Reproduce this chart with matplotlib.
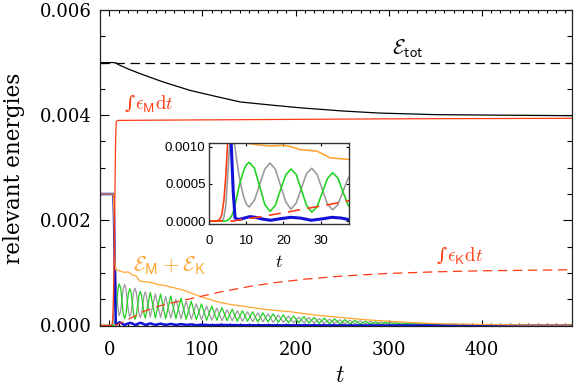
import matplotlib
matplotlib.use("Agg")
import matplotlib.pyplot as plt
from matplotlib.ticker import MultipleLocator, FormatStrFormatter

plt.rcParams['mathtext.fontset'] = 'cm'

# ---------------- data ----------------
t_tot = [-10, 497]
e_tot = [0.005, 0.005]

t_black = [-10, 5, 7.5, 10, 20, 33, 58, 87, 116, 141, 175, 205, 250, 290, 350, 420, 497]
e_black = [0.005, 0.005, 0.00499, 0.00496, 0.00488, 0.00479, 0.00463, 0.00447, 0.00435,
           0.00425, 0.00419, 0.00414, 0.00408, 0.00404, 0.00401, 0.00400, 0.00399]

t_epsM = [-10, 2, 2.5, 3, 3.5, 4, 4.5, 5, 5.5, 6, 6.5, 7, 7.5, 9, 50, 100, 200, 300, 497]
e_epsM = [0, 0, 0.00001, 0.00003, 0.0001, 0.00028, 0.0006, 0.00105, 0.0017, 0.0025,
          0.0032, 0.0037, 0.00388, 0.0039, 0.003905, 0.00391, 0.00392, 0.00393, 0.00394]

t_epsK = [-10, 6.5, 7.5, 10, 13, 16.4, 21, 27, 32, 37, 44, 50, 60, 70, 90, 120, 150,
          180, 210, 250, 300, 350, 400, 450, 497]
e_epsK = [0, 0, 0.00001, 0.00003, 0.00005, 0.00008, 0.00012, 0.000175, 0.00022, 0.00027,
          0.00031, 0.00035, 0.0004, 0.00044, 0.00052, 0.00064, 0.00074, 0.00082, 0.00088,
          0.00094, 0.00099, 0.00102, 0.00104, 0.00105, 0.00106]

t_orange = [-10, 4, 4.5, 5, 5.5, 6, 6.5, 7, 9, 11, 14, 16.4, 20, 22, 24.5, 27, 29, 31,
            32.5, 35, 37.4, 40, 44, 50, 62, 80, 98, 116, 130, 150, 170, 195, 220, 250,
            275, 300, 330, 360, 400, 450, 497]
e_orange = [0.0025, 0.0025, 0.0024, 0.0021, 0.0017, 0.0013, 0.0011, 0.00106, 0.00105,
            0.00104, 0.00102, 0.00101, 0.00102, 0.001, 0.00096, 0.00095, 0.00094, 0.00089,
            0.00085, 0.00084, 0.00083, 0.00083, 0.00082, 0.00079, 0.00075, 0.00067, 0.00055,
            0.00045, 0.0004, 0.00035, 0.0003, 0.00026, 0.0002, 0.00015, 0.00011, 0.00008,
            0.00005, 0.00003, 0.00002, 0.00001, 0.00001]

t_blue = [-10, 4, 4.5, 5, 5.5, 6, 6.5, 7, 8, 9.5, 11, 12.5, 14, 16.5, 19, 22, 24.5, 27.5,
          30.5, 33, 35.5, 38.5, 44, 49.5, 55, 60.5, 66, 71.5, 77, 82.5, 88, 93.5, 99, 110,
          121, 140, 200, 300, 497]
e_blue = [0.0025, 0.0025, 0.0024, 0.0021, 0.0016, 0.0010, 0.0004, 0.00004, 0.00002,
          0.00004, 0.00006, 0.00005, 0.00003, 0.00001, 0.00003, 0.00005, 0.00004, 0.00001,
          0.00003, 0.00005, 0.00004, 0.00001, 0.00004, 0.00001, 0.000035, 0.00001, 0.00003,
          0.00001, 0.000025, 0.00001, 0.00002, 0.000005, 0.000015, 0.000005, 0.00001,
          0.000005, 0.000003, 0, 0]

t_green = [-10, 4.5, 5, 5.5, 6, 6.5, 7, 7.5, 8, 8.7, 9.4, 10.1, 10.8, 12.2, 13.6, 15.0,
           16.4, 17.8, 19.2, 20.6, 22.0, 23.4, 24.8, 26.2, 27.6, 29.0, 30.4, 31.8, 33.2,
           34.6, 36.0, 37.4, 38.8, 44, 49.5, 55, 60.5, 66, 71.5, 77, 82.5, 88, 93.5, 99,
           104.5, 110, 115.5, 121, 126.5, 132, 137.5, 143, 148.5, 154, 159.5, 165, 170.5,
           176, 181.5, 187, 192.5, 198, 203.5, 209, 214.5, 220, 225.5, 231, 236.5, 242,
           247.5, 253, 258.5, 264, 269.5, 275, 280.5, 286, 291.5, 297, 302.5, 308, 313.5,
           319, 324.5, 330, 335.5, 350, 400, 450, 497]
e_green = [0, 0, 0.00001, 0.00003, 0.00006, 0.00012, 0.00022, 0.00033, 0.00045, 0.00058,
           0.00069, 0.00076, 0.00079, 0.00071, 0.00047, 0.00022, 0.00013, 0.00021, 0.00042,
           0.00062, 0.00070, 0.00063, 0.00042, 0.00021, 0.00012, 0.00019, 0.00038, 0.00057,
           0.00065, 0.00058, 0.00039, 0.00021, 0.00014,
           0.00063, 0.00014, 0.00060, 0.00013, 0.00056, 0.00013, 0.00052, 0.00012, 0.00046,
           0.00011, 0.00041, 0.00010, 0.00037, 0.00010, 0.00034, 0.00009, 0.00031, 0.00008,
           0.00028, 0.00008, 0.00026, 0.00007, 0.00024, 0.00007, 0.00022, 0.00006, 0.00020,
           0.00005, 0.00018, 0.00005, 0.00017, 0.000045, 0.000155, 0.00004, 0.00014,
           0.000035, 0.000125, 0.00003, 0.00011, 0.00003, 0.000095, 0.000025, 0.00008,
           0.000025, 0.00007, 0.00002, 0.00006, 0.00002, 0.000055, 0.00002, 0.000045,
           0.000018, 0.00004, 0.00002, 0.00002, 0.000015, 0.00001, 0.00001]

t_gray = [-10, 3.5, 4, 4.5, 5, 5.5, 6, 6.5, 7, 7.5, 8, 8.7, 9.4, 10.1, 10.8, 12.2, 13.6,
          15.0, 16.4, 17.8, 19.2, 20.6, 22.0, 23.4, 24.8, 26.2, 27.6, 29.0, 30.4, 31.8,
          33.2, 34.6, 36.0, 37.4, 38.8, 44, 49.5, 55, 60.5, 66, 71.5, 77, 82.5, 88, 93.5,
          99, 104.5, 110, 115.5, 121, 126.5, 132, 137.5, 143, 148.5, 154, 159.5, 165,
          170.5, 176, 181.5, 187, 192.5, 198, 203.5, 209, 214.5, 220, 225.5, 231, 236.5,
          242, 247.5, 253, 258.5, 264, 269.5, 275, 280.5, 286, 291.5, 297, 302.5, 308,
          313.5, 319, 324.5, 330, 335.5, 350, 400, 450, 497]
e_gray = [0, 0, 0.00005, 0.0002, 0.0006, 0.0010, 0.0012, 0.00115, 0.00098, 0.0008, 0.00063,
          0.00045, 0.00031, 0.00022, 0.00019, 0.00028, 0.00049, 0.00070, 0.00078, 0.00070,
          0.00048, 0.00026, 0.00016, 0.00024, 0.00044, 0.00064, 0.00071, 0.00063, 0.00043,
          0.00023, 0.00015, 0.00022, 0.00040, 0.00058, 0.00064,
          0.00016, 0.00060, 0.00015, 0.00055, 0.00014, 0.00050, 0.00013, 0.00046, 0.00012,
          0.00041, 0.00011, 0.00037, 0.00010, 0.00033, 0.00009, 0.00030, 0.00009, 0.00028,
          0.00008, 0.00026, 0.00007, 0.00024, 0.00007, 0.00022, 0.00006, 0.00020, 0.00006,
          0.00018, 0.00005, 0.00016, 0.00005, 0.00015, 0.000045, 0.00013, 0.00004, 0.00012,
          0.00004, 0.00011, 0.000035, 0.00010, 0.00003, 0.00009, 0.00003, 0.00008,
          0.000025, 0.00007, 0.000025, 0.00006, 0.00002, 0.00005, 0.00002, 0.000045,
          0.00002, 0.00004, 0.00002, 0.000015, 0.00001, 0.00001]

main_yticks = [0.000, 0.002, 0.004, 0.006]
main_xticks = [0, 100, 200, 300, 400]
inset_yticks = [0.0000, 0.0005, 0.0010]
inset_xticks = [0, 10, 20, 30]

# ---------------- colours ----------------
C_RED = '#ff3a12'
C_ORANGE = '#ffa530'
C_GREEN = '#1ed21e'
C_BLUE = '#1212d8'
C_GRAY = '#9a9a9a'

fig = plt.figure(figsize=(5.81, 3.88), dpi=100)
ax = fig.add_axes([100/581, 62/388, 472/581, 316/388])


def draw(a, lw_scale=1.0, blue_lw=1.8):
    a.plot(t_gray, e_gray, color=C_GRAY, lw=0.9*lw_scale)
    a.plot(t_green, e_green, color=C_GREEN, lw=0.9*lw_scale)
    a.plot(t_blue, e_blue, color=C_BLUE, lw=blue_lw)
    a.plot(t_orange, e_orange, color=C_ORANGE, lw=0.9*lw_scale)
    a.plot(t_epsK, e_epsK, color=C_RED, lw=0.9*lw_scale, linestyle=(0, (7.5, 4.5)))
    a.plot(t_epsM, e_epsM, color=C_RED, lw=0.9*lw_scale)


draw(ax)
ax.plot(t_tot, e_tot, color='black', lw=0.9, linestyle=(0, (7.5, 4.5)))
ax.plot(t_black, e_black, color='black', lw=0.9)

ax.set_xlim(-10, 497)
ax.set_ylim(-0.00001, 0.006)
ax.set_xticks(main_xticks)
ax.set_yticks(main_yticks)
ax.yaxis.set_major_formatter(FormatStrFormatter('%.3f'))
ax.xaxis.set_minor_locator(MultipleLocator(10))
ax.yaxis.set_minor_locator(MultipleLocator(0.0005))
ax.tick_params(axis='both', which='both', direction='in', top=True, right=True,
               color='black', width=0.8)
ax.tick_params(axis='y', which='major', length=6.5, pad=6)
ax.tick_params(axis='y', which='minor', length=3.3)
ax.tick_params(axis='x', which='major', length=4.3, pad=11)
ax.tick_params(axis='x', which='minor', length=2.2)
for lab in ax.get_xticklabels() + ax.get_yticklabels():
    lab.set_fontfamily('DejaVu Serif')
    lab.set_fontsize(13)
for s in ax.spines.values():
    s.set_linewidth(0.9)
    s.set_color('#222222')

ax.set_ylabel('relevant energies', fontfamily='DejaVu Serif', fontsize=15.5)
ax.yaxis.set_label_coords(-0.158, 0.5)
ax.set_xlabel(r'$t$', fontsize=17)
ax.xaxis.set_label_coords(0.508, -0.118)


def integral_label(a, x, y, sub, color):
    # small slanted integral sign followed by epsilon_sub dt
    a.annotate('\u222b', xy=(x, y), xytext=(0, 0.5), textcoords='offset points',
               fontfamily='DejaVu Serif', fontstyle='italic', fontsize=14,
               color=color, ha='right', va='center')
    a.annotate(r'$\epsilon_{\mathsf{%s}}\mathrm{d}t$' % sub, xy=(x, y), xytext=(0.5, 0),
               textcoords='offset points', fontsize=13.5, color=color,
               ha='left', va='center')


ax.text(320, 0.00527, r'$\mathcal{E}_{\mathsf{tot}}$', fontsize=15, color='black',
        ha='center', va='center')
integral_label(ax, 27, 0.0042, 'M', C_RED)
ax.text(65, 0.00113, r'$\mathcal{E}_{\mathsf{M}}+\mathcal{E}_{\mathsf{K}}$', fontsize=15,
        color=C_ORANGE, ha='center', va='center')
integral_label(ax, 362, 0.00131, 'K', C_RED)

# ---------------- inset ----------------
ins = fig.add_axes([209/581, (388-224)/388, 140/581, 81/388])
draw(ins, lw_scale=1.3, blue_lw=2.2)
ins.set_xlim(0, 37.6)
ins.set_ylim(-0.00004, 0.00105)
ins.set_xticks(inset_xticks)
ins.set_yticks(inset_yticks)
ins.yaxis.set_major_formatter(FormatStrFormatter('%.4f'))
ins.tick_params(axis='both', which='both', direction='in', top=True, right=True,
                length=2.5, width=0.8, labelsize=9.5)
ins.tick_params(axis='y', pad=2.5)
ins.tick_params(axis='x', pad=8)
for lab in ins.get_xticklabels() + ins.get_yticklabels():
    lab.set_fontfamily('Liberation Sans')
for s in ins.spines.values():
    s.set_linewidth(1.0)
    s.set_color('#333333')
ins.set_xlabel(r'$t$', fontsize=13)
ins.xaxis.set_label_coords(0.5, -0.36)

fig.savefig('out.png', dpi=100)
